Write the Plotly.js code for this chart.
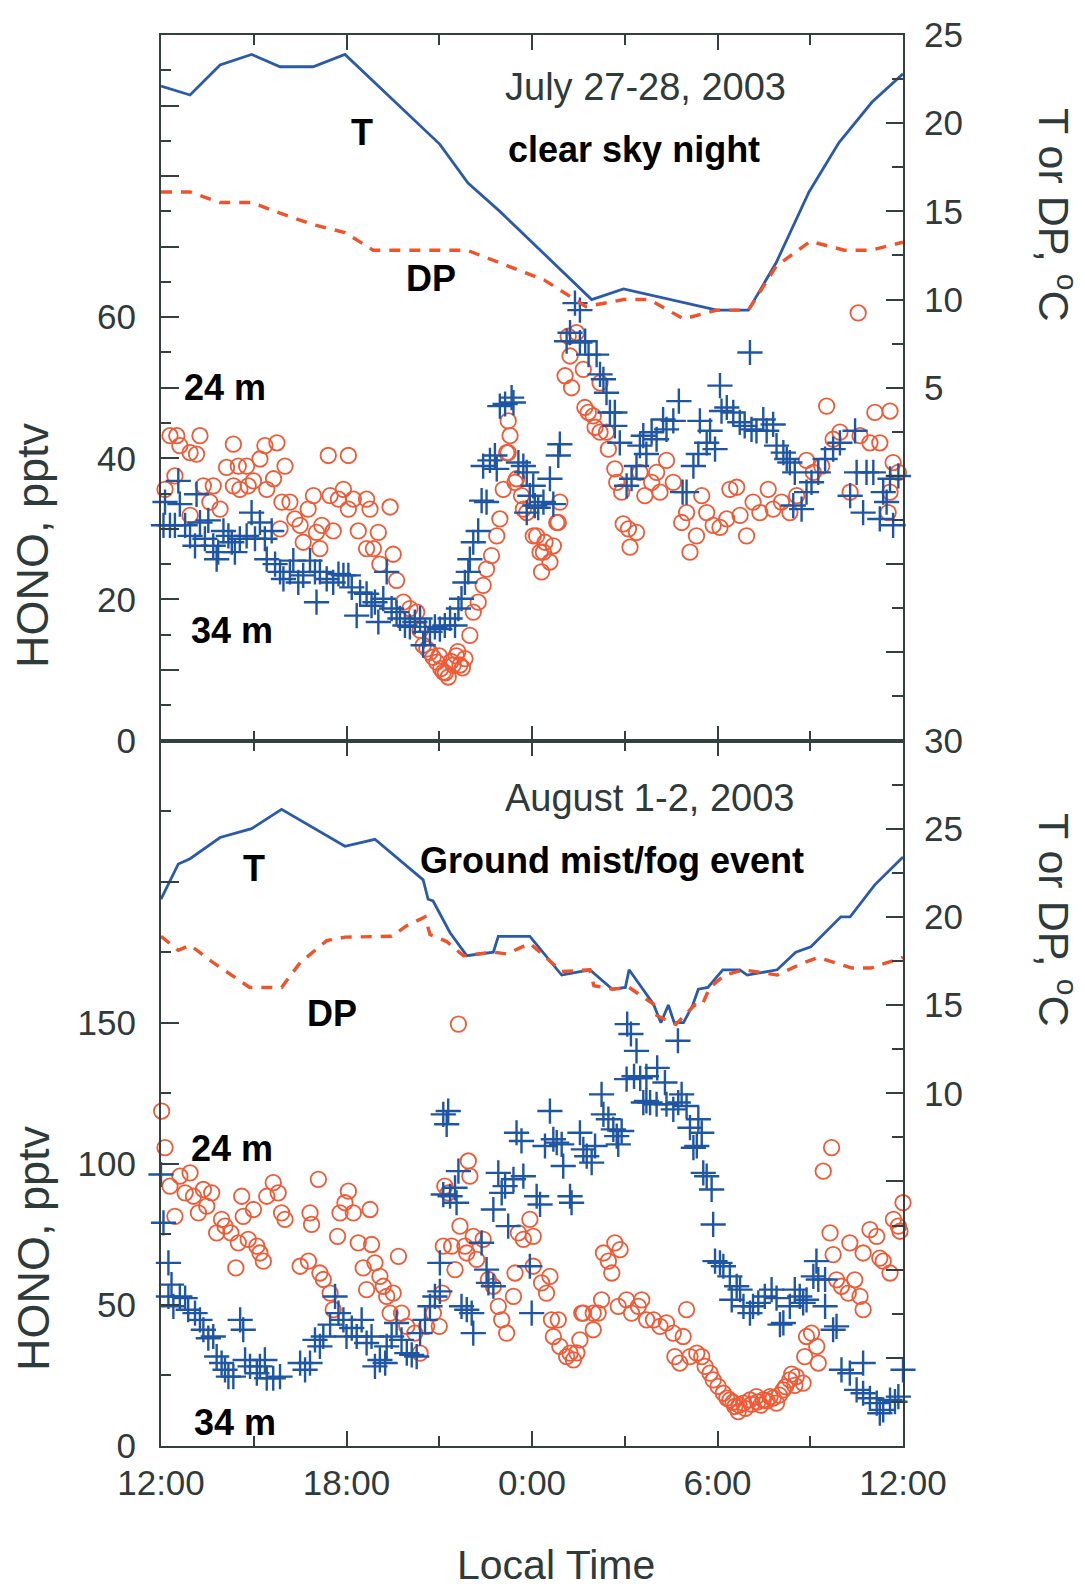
<!DOCTYPE html>
<html>
<head>
<meta charset="utf-8">
<script src="https://cdn.plot.ly/plotly-3.0.1.min.js"></script>
<style>
  html, body { margin: 0; padding: 0; background: #ffffff; }
  #chart { width: 1085px; height: 1590px; }
</style>
</head>
<body>
<div id="chart"></div>
<script>
// Hours after local noon (0 = 12:00, 12 = 0:00, 24 = 12:00 next day)
const xTickVals = [0, 6, 12, 18, 24];
const xTickText = ['12:00', '18:00', '0:00', '6:00', '12:00'];

// ---- July 27-28, 2003 (clear sky night) ----
const julTempHours = [0, 0.94, 1.91, 2.93, 3.85, 4.92, 5.95, 9.02, 9.93, 10.96, 13.93, 14.96, 17.98, 19.0, 19.9, 20.96, 21.93, 23.0, 24.0];
const julTemp      = [22.1, 21.6, 23.3, 23.9, 23.2, 23.2, 23.9, 18.8, 16.6, 15.0, 10.0, 10.6, 9.4, 9.4, 12.1, 16.1, 18.9, 21.2, 22.8];

const julDewHours = [0, 0.94, 1.91, 2.93, 3.85, 4.92, 5.95, 6.86, 9.9, 10.96, 12.4, 13.75, 14.96, 15.8, 16.9, 17.98, 19.0, 19.9, 21.0, 22.1, 22.96, 24.0];
const julDew      = [16.1, 16.1, 15.5, 15.5, 14.9, 14.25, 13.8, 12.8, 12.8, 12.1, 11.1, 9.6, 10.0, 10.0, 8.9, 9.4, 9.4, 11.9, 13.3, 12.8, 12.8, 13.25];

const jul24Hours = [0.13, 0.29, 0.51, 0.61, 0.45, 0.94, 1.15, 1.26, 0.94, 1.37, 1.69, 1.58, 1.91, 2.12, 2.34, 2.34, 2.50, 2.55, 2.77, 2.82,
  2.99, 3.20, 3.36, 3.42, 3.64, 3.75, 3.85, 3.91, 4.01, 4.17, 4.33, 4.50, 4.60, 4.76, 4.93, 5.03, 5.14, 5.20, 5.41, 5.47,
  5.57, 5.74, 5.90, 6.06, 6.06, 6.22, 6.38, 6.65, 6.76, 6.65, 6.87, 7.03, 7.08, 7.41, 7.51, 7.62, 7.84, 8.05, 8.27, 8.48,
  8.70, 8.92, 9.13, 9.29, 9.45, 9.67, 9.83, 9.99, 10.10, 10.26, 10.42, 10.53, 10.69, 10.86, 10.96, 11.07, 11.23, 11.29, 11.23, 11.45,
  11.66, 11.83, 12.04, 12.26, 12.42, 12.31, 12.58, 12.69, 12.85, 12.90, 11.18, 11.50, 11.72, 12.15, 12.37, 12.80, 13.17, 13.23, 13.07, 13.28,
  13.66, 13.44, 13.71, 13.82, 13.98, 14.20, 14.04, 14.20, 14.41, 14.47, 14.68, 14.74, 14.90, 14.95, 15.12, 15.17, 15.38, 15.49, 15.65, 15.87,
  16.03, 16.14, 16.35, 16.57, 16.84, 17.00, 17.11, 17.32, 17.49, 17.65, 17.86, 18.08, 18.30, 18.40, 18.62, 18.73, 18.94, 19.15, 19.37, 19.64,
  19.80, 20.07, 20.34, 20.56, 20.88, 21.10, 21.37, 21.53, 21.74, 21.96, 22.29, 22.55, 22.61, 22.93, 23.09, 23.25, 23.58, 23.58, 23.68, 23.85, 23.52,
  8.60, 8.80, 9.05, 9.20, 9.38, 9.55, 9.75, 8.38, 9.00, 9.60];
const jul24Hono  = [35.6, 43.2, 43.2, 41.8, 37.5, 40.8, 40.6, 43.2, 31.9, 36.1, 36.1, 33.8, 32.8, 38.7, 42.0, 36.1, 38.9, 35.6, 38.9, 36.1,
  36.8, 39.9, 41.8, 35.6, 37.1, 42.2, 30.0, 33.8, 38.9, 33.8, 31.4, 30.5, 28.1, 32.8, 34.7, 29.5, 27.2, 30.5, 40.4, 34.7,
  29.7, 34.2, 35.6, 40.4, 32.8, 34.2, 29.7, 34.2, 32.8, 27.2, 27.2, 29.5, 25.0, 33.1, 26.4, 22.7, 19.6, 18.7, 18.2, 13.5,
  12.5, 11.1, 9.7, 9.0, 10.7, 10.7, 11.6, 14.9, 18.2, 19.6, 22.0, 24.3, 26.2, 29.0, 31.4, 35.6, 40.8, 43.2, 45.3, 36.6,
  34.7, 32.3, 29.0, 26.7, 28.1, 23.9, 25.3, 27.6, 30.9, 33.8, 40.8, 37.1, 32.8, 29.0, 26.7, 30.9, 57.3, 54.5, 51.7, 50.0,
  52.6, 57.8, 47.2, 46.5, 46.0, 50.7, 44.4, 43.7, 43.7, 41.3, 38.5, 36.6, 35.2, 30.7, 30.0, 27.4, 29.5, 38.0, 34.7, 36.6,
  38.0, 35.2, 39.7, 36.6, 30.9, 32.3, 26.7, 29.0, 34.7, 32.3, 30.5, 30.2, 31.4, 35.6, 35.9, 31.9, 29.0, 33.8, 32.3, 35.6,
  32.8, 33.8, 32.3, 34.7, 39.7, 38.0, 38.9, 47.4, 42.7, 43.7, 35.2, 60.6, 43.2, 42.2, 46.5, 42.2, 46.7, 35.2, 39.4, 38.0, 32.3,
  13.0, 11.8, 10.2, 9.6, 11.2, 12.0, 10.3, 15.6, 12.0, 12.6];

const jul34Hours = [0.08, 0.13, 0.29, 0.45, 0.56, 0.61, 0.78, 0.94, 1.10, 1.15, 1.26, 1.42, 1.53, 1.69, 1.80, 1.85, 2.02, 2.18, 2.29, 2.39,
  2.55, 2.77, 2.93, 3.04, 3.20, 3.36, 3.42, 3.58, 3.69, 3.85, 3.96, 4.17, 4.28, 4.44, 4.60, 4.82, 4.98, 5.03, 5.14, 5.36,
  5.57, 5.74, 5.90, 6.06, 6.17, 6.33, 6.44, 6.65, 6.81, 6.92, 7.03, 7.19, 7.30, 7.46, 7.62, 7.73, 7.89, 8.05, 8.21, 8.38,
  8.48, 8.54, 8.70, 8.86, 9.02, 9.18, 9.35, 9.51, 9.62, 9.72, 9.83, 9.94, 9.99, 10.10, 10.26, 10.37, 10.53, 10.42, 10.64, 10.80,
  10.86, 10.96, 11.13, 11.34, 11.40, 11.56, 11.72, 11.83, 11.93, 12.04, 12.09, 12.20, 11.83, 12.37, 12.58, 12.69, 12.85, 12.90, 13.12, 13.23,
  13.55, 13.39, 13.55, 13.72, 13.83, 14.09, 14.20, 14.31, 14.41, 14.52, 14.68, 14.68, 14.84, 15.06, 15.22, 15.38, 15.49, 15.60, 15.70, 15.87,
  16.03, 16.24, 16.35, 16.57, 16.75, 16.87, 17.00, 17.22, 17.38, 17.43, 17.65, 17.76, 17.92, 18.08, 18.13, 18.30, 18.51, 18.72, 18.88, 19.05,
  19.10, 19.26, 19.48, 19.59, 19.80, 19.91, 20.13, 20.24, 20.34, 20.50, 20.45, 20.72, 20.88, 21.04, 21.26, 21.48, 21.74, 21.96, 22.29, 22.45,
  22.50, 22.71, 22.82, 23.04, 23.25, 23.36, 23.47, 23.58, 23.68, 23.85];
const jul34Hono  = [30.5, 33.8, 30.5, 30.5, 36.8, 33.5, 30.5, 29.0, 27.6, 34.9, 30.9, 28.6, 31.2, 27.6, 25.7, 26.7, 29.7, 29.0, 28.1, 26.7,
  28.6, 29.0, 32.3, 28.6, 30.9, 28.6, 25.7, 29.7, 25.0, 23.9, 22.9, 23.9, 25.5, 22.4, 23.4, 25.5, 23.9, 19.6, 23.9, 22.9,
  22.4, 23.6, 23.4, 23.4, 21.7, 17.7, 21.0, 20.8, 19.1, 19.6, 16.8, 20.1, 23.9, 18.7, 18.2, 17.3, 16.3, 16.1, 16.8, 17.3,
  13.5, 15.4, 15.4, 16.1, 15.8, 16.3, 17.3, 16.3, 18.7, 20.1, 22.4, 23.9, 25.7, 28.1, 29.7, 34.0, 33.8, 38.9, 39.7, 40.4,
  38.5, 47.4, 47.7, 48.6, 47.9, 39.4, 38.9, 38.0, 34.7, 36.1, 33.3, 33.0, 32.3, 33.8, 37.1, 33.5, 40.4, 42.0, 56.6, 57.8,
  56.4, 62.0, 61.0, 56.6, 54.7, 54.7, 51.9, 51.2, 49.3, 46.5, 46.5, 44.6, 42.2, 36.1, 37.1, 38.9, 41.8, 43.2, 40.6, 43.7,
  42.7, 45.5, 44.1, 45.3, 48.1, 35.2, 35.2, 38.9, 40.6, 45.3, 42.2, 43.9, 41.3, 50.3, 46.7, 47.2, 46.5, 45.1, 44.6, 55.0,
  44.1, 43.9, 45.5, 43.9, 44.8, 41.8, 40.8, 39.9, 39.4, 38.0, 33.3, 32.8, 35.2, 36.6, 38.0, 39.9, 41.3, 42.2, 34.7, 43.9,
  38.0, 32.3, 38.0, 38.0, 31.4, 35.2, 33.8, 37.1, 30.5, 37.5];

// ---- August 1-2, 2003 (ground mist / fog event) ----
const augTempHours = [0, 0.56, 0.94, 1.91, 2.93, 3.90, 5.95, 6.92, 8.48, 8.64, 8.80, 9.35, 9.89, 10.75, 10.91, 11.93, 12.96, 13.87, 14.60, 15.02,
  15.14, 15.93, 16.17, 16.41, 16.60, 16.90, 17.20, 17.38, 17.69, 18.17, 18.72, 18.96, 19.93, 20.53, 21.02, 21.99, 22.29, 23.08, 24.0];
const augTemp      = [21.0, 23.0, 23.3, 24.5, 25.0, 26.1, 24.0, 24.4, 22.1, 21.0, 20.9, 19.1, 17.8, 18.0, 18.9, 18.9, 16.7, 17.0, 15.9, 16.0,
  17.0, 15.05, 14.0, 15.0, 14.0, 14.0, 15.0, 15.9, 16.0, 17.0, 17.0, 16.7, 17.0, 18.0, 18.3, 20.0, 20.0, 21.8, 23.4];

const augDewHours = [0, 0.56, 0.94, 1.69, 2.87, 3.90, 4.50, 5.36, 5.95, 7.46, 7.95, 8.54, 8.70, 9.24, 9.78, 10.75, 11.18, 11.93, 12.96, 13.87,
  14.0, 14.6, 15.14, 15.93, 16.04, 16.65, 17.26, 17.5, 17.75, 18.24, 18.84, 19.93, 20.78, 21.26, 22.35, 22.96, 24.0];
const augDew      = [18.9, 18.1, 18.4, 17.4, 16.0, 16.0, 17.4, 18.65, 18.85, 18.9, 19.5, 20.0, 19.0, 18.6, 17.8, 18.0, 17.9, 18.5, 16.9, 17.0,
  16.1, 15.9, 16.0, 15.05, 14.4, 13.9, 15.0, 15.0, 16.0, 16.7, 17.0, 16.7, 17.4, 17.7, 17.1, 17.1, 17.7];

const aug24Hours = [0.02, 0.13, 0.29, 0.45, 0.61, 0.78, 0.94, 1.05, 1.21, 1.37, 1.48, 1.64, 1.80, 1.96, 2.07, 2.26, 2.42, 2.50, 2.61, 2.66,
  2.82, 2.99, 3.10, 3.20, 3.31, 3.42, 3.63, 3.79, 3.90, 4.01, 4.50, 4.77, 4.82, 4.87, 5.09, 5.14, 5.25, 5.47, 5.57, 5.71,
  5.79, 5.95, 6.06, 6.22, 6.38, 6.54, 6.65, 6.76, 6.81, 6.92, 7.08, 7.19, 7.30, 7.41, 7.51, 7.68, 7.78, 7.95, 8.21, 8.38,
  8.59, 8.81, 9.00, 9.10, 9.13, 9.18, 9.29, 9.40, 9.51, 9.62, 9.67, 9.83, 9.89, 9.94, 9.99, 10.10, 10.21, 10.42, 10.59, 10.75,
  10.91, 11.02, 11.18, 11.40, 11.45, 11.56, 11.72, 11.93, 12.04, 12.04, 12.31, 12.47, 12.58, 12.63, 12.69, 12.85, 12.90, 13.12, 13.23, 13.34,
  13.45, 13.55, 13.61, 13.66, 13.98, 13.98, 14.14, 14.25, 14.31, 14.47, 14.58, 14.68, 14.85, 14.79, 15.06, 15.22, 15.44, 15.55, 15.71, 15.93,
  16.14, 16.35, 16.57, 16.62, 16.78, 17.00, 16.89, 17.11, 17.33, 17.49, 17.60, 17.76, 17.86, 18.02, 18.19, 18.40, 18.56, 18.67, 18.84, 19.05,
  19.26, 19.48, 19.70, 19.91, 20.13, 20.34, 20.55, 20.77, 20.82, 20.88, 21.04, 21.21, 21.26, 21.42, 21.69, 21.64, 21.74, 21.85, 22.01, 22.23,
  22.28, 22.44, 22.61, 22.71, 22.71, 22.93, 23.15, 23.25, 23.36, 23.58, 23.69, 23.85, 23.90, 24.0,
  18.30, 18.50, 18.70, 18.90, 19.10, 19.30, 19.60, 19.80, 20.00, 20.20, 20.40, 20.50, 19.40];
const aug24Hono  = [118.7, 105.7, 92.1, 81.4, 95.6, 89.7, 96.8, 88.5, 82.6, 90.9, 85.0, 89.7, 75.5, 80.3, 77.9, 75.5, 63.1, 72.0, 88.5, 81.4,
  73.2, 83.8, 70.8, 68.4, 65.5, 88.5, 93.3, 89.7, 82.6, 80.3, 63.7, 65.5, 82.6, 78.5, 94.5, 61.3, 59.0, 54.2, 48.3, 74.3,
  82.6, 86.2, 90.3, 82.6, 72.0, 63.1, 55.4, 83.8, 71.4, 64.9, 60.1, 56.6, 53.0, 47.1, 54.2, 67.2, 47.1, 42.4, 40.0, 32.9,
  42.4, 47.1, 42.4, 54.2, 70.8, 92.1, 89.7, 70.8, 62.5, 149.5, 77.9, 70.8, 68.4, 101.0, 95.6, 74.3, 66.1, 73.2, 59.0, 56.6,
  49.5, 44.7, 40.0, 53.0, 61.3, 75.5, 73.2, 80.3, 74.3, 63.7, 57.8, 54.2, 60.1, 44.7, 38.8, 44.7, 35.3, 31.7, 32.9, 30.5,
  33.0, 37.6, 47.1, 47.1, 41.2, 47.1, 47.1, 51.8, 68.4, 65.5, 61.3, 72.0, 69.6, 49.5, 51.8, 47.1, 49.5, 51.8, 44.7, 44.7,
  42.4, 43.6, 40.0, 31.7, 29.4, 48.3, 38.8, 31.7, 32.9, 31.7, 28.2, 25.8, 23.4, 21.1, 18.7, 16.3, 14.0, 12.2, 15.2, 16.3,
  17.5, 16.3, 17.5, 15.2, 19.9, 23.4, 24.6, 22.3, 31.7, 38.8, 40.0, 35.3, 29.4, 97.4, 105.7, 75.5, 67.8, 58.9, 56.6, 54.2,
  72.0, 58.9, 53.0, 48.3, 68.4, 76.7, 74.3, 66.6, 65.5, 61.3, 80.3, 77.9, 76.1, 86.2,
  17.0, 15.5, 14.5, 13.3, 14.8, 15.6, 16.0, 17.0, 18.0, 21.0, 25.5, 21.5, 14.5];

const aug34Hours = [0, 0.08, 0.24, 0.34, 0.24, 0.40, 0.61, 0.78, 0.88, 1.10, 1.26, 1.37, 1.53, 1.69, 1.80, 1.96, 2.07, 2.18, 2.34, 2.56,
  2.66, 2.72, 2.88, 3.10, 3.20, 3.36, 3.42, 3.63, 3.85, 4.50, 4.66, 4.82, 4.98, 5.14, 5.25, 5.47, 5.63, 5.74, 5.90, 6.00,
  6.17, 6.33, 6.49, 6.65, 6.81, 6.92, 7.08, 7.25, 7.30, 7.46, 7.62, 7.78, 7.95, 8.11, 8.27, 8.38, 8.54, 8.70, 8.86, 9.02,
  9.02, 9.13, 9.29, 9.24, 9.13, 9.35, 9.51, 9.62, 9.56, 9.72, 9.89, 10.05, 10.10, 10.37, 10.53, 10.59, 10.75, 10.75, 10.91, 11.02,
  11.13, 11.23, 11.40, 11.50, 11.66, 11.72, 11.93, 11.99, 12.15, 12.26, 12.42, 12.58, 12.69, 12.80, 12.96, 13.01, 13.23, 13.28, 13.55, 13.66,
  13.77, 13.93, 14.04, 14.25, 14.31, 14.47, 14.63, 14.74, 14.79, 14.90, 15.06, 15.08, 15.20, 15.38, 15.30, 15.50, 15.70, 16.05, 16.72, 15.60,
  15.70, 15.82, 16.03, 16.30, 16.35, 16.57, 16.73, 16.84, 17.00, 17.11, 17.38, 17.49, 17.22, 17.33, 17.54, 17.65, 17.81, 17.86, 17.92, 18.08,
  18.19, 18.40, 18.62, 18.73, 18.46, 18.84, 19.05, 19.15, 19.32, 19.53, 19.75, 19.91, 20.02, 20.13, 20.34, 20.50, 20.66, 20.77, 20.88, 21.10,
  21.20, 21.26, 21.48, 21.48, 21.74, 21.85, 22.01, 22.28, 22.71, 22.50, 22.71, 22.93, 23.15, 23.25, 23.36, 23.58, 23.74, 23.85, 24.0];
const aug34Hono  = [96.2, 79.1, 64.9, 57.2, 53.0, 49.5, 53.0, 52.4, 48.3, 47.1, 44.7, 41.2, 38.2, 38.8, 31.7, 29.4, 27.0, 24.6, 24.6, 44.7,
  41.2, 30.5, 28.2, 25.8, 28.2, 30.5, 24.0, 24.0, 24.6, 29.4, 27.0, 29.4, 37.6, 35.3, 38.8, 43.0, 53.0, 47.1, 44.7, 38.8,
  41.8, 38.8, 44.7, 36.5, 38.8, 28.2, 30.5, 29.4, 35.3, 38.8, 43.6, 37.6, 32.9, 32.3, 31.7, 40.0, 44.7, 49.5, 53.0, 54.8,
  64.9, 117.5, 118.7, 114.0, 89.1, 88.5, 91.5, 97.4, 86.2, 49.5, 48.3, 47.1, 40.0, 72.0, 62.5, 57.8, 56.6, 83.8, 96.8, 89.7,
  92.1, 77.9, 94.5, 111.0, 108.1, 95.6, 63.7, 47.1, 88.5, 85.6, 106.3, 118.7, 108.7, 107.5, 106.9, 99.2, 88.5, 86.2, 111.0, 105.1,
  102.7, 100.4, 106.3, 124.6, 117.5, 115.8, 112.2, 109.8, 106.9, 111.6, 130.0, 149.5, 146.0, 140.0, 131.0, 130.3, 131.0, 134.0, 143.6, 121.7,
  122.3, 121.7, 121.1, 128.8, 121.1, 119.3, 121.7, 124.6, 120.5, 112.8, 115.8, 111.0, 105.7, 106.3, 96.8, 95.6, 90.9, 78.5, 65.5, 64.9,
  63.7, 60.1, 56.6, 55.4, 51.8, 49.5, 47.1, 49.5, 50.7, 53.0, 55.4, 52.4, 43.0, 43.6, 49.5, 55.4, 53.0, 50.7, 51.8, 60.1,
  65.5, 59.0, 59.0, 49.5, 41.2, 42.4, 27.0, 25.8, 29.4, 19.9, 18.7, 16.9, 15.2, 11.6, 12.8, 16.3, 15.7, 17.5, 27.0];

// ---- styling ----
const axisColor = '#34403f';
const textColor = '#2f3a3a';
const redColor  = '#f05a36';
const blueColor = '#1f56a3';
const fontFamily = 'Liberation Sans, Arial, sans-serif';
const tickFont  = { family: fontFamily, size: 35, color: textColor };

function circles(x, y, xa, ya) {
  return { x, y, xaxis: xa, yaxis: ya, type: 'scatter', mode: 'markers', cliponaxis: false, showlegend: false,
    marker: { symbol: 'circle-open', size: 15.5, color: redColor, line: { width: 1.8, color: redColor } } };
}
function crosses(x, y, xa, ya) {
  return { x, y, xaxis: xa, yaxis: ya, type: 'scatter', mode: 'markers', cliponaxis: false, showlegend: false,
    marker: { symbol: 'cross-thin-open', size: 18, color: blueColor, line: { width: 2.4, color: blueColor } } };
}
function tempLine(x, y, xa, ya) {
  return { x, y, xaxis: xa, yaxis: ya, type: 'scatter', mode: 'lines', showlegend: false,
    line: { color: '#2a5aa8', width: 2.8 } };
}
function dewLine(x, y, xa, ya) {
  return { x, y, xaxis: xa, yaxis: ya, type: 'scatter', mode: 'lines', showlegend: false,
    line: { color: '#f0522a', width: 3.4, dash: '11px,9px' } };
}

const traces = [
  circles(jul24Hours, jul24Hono, 'x', 'y'),
  crosses(jul34Hours, jul34Hono, 'x', 'y'),
  tempLine(julTempHours, julTemp, 'x', 'y2'),
  dewLine(julDewHours, julDew, 'x', 'y2'),
  circles(aug24Hours, aug24Hono, 'x2', 'y3'),
  crosses(aug34Hours, aug34Hono, 'x2', 'y3'),
  tempLine(augTempHours, augTemp, 'x2', 'y4'),
  dewLine(augDewHours, augDew, 'x2', 'y4')
];

const baseAxis = {
  showgrid: false, zeroline: false, showline: true, linecolor: axisColor, linewidth: 2,
  ticks: 'inside', tickcolor: axisColor, tickwidth: 2, tickfont: tickFont, ticklabelstandoff: 16
};

function xAxis(anchor, labels) {
  return Object.assign({}, baseAxis, {
    anchor, range: [0, 24], tickvals: xTickVals, ticktext: xTickText, showticklabels: labels,
    ticklen: 15, mirror: 'ticks', ticklabelstandoff: 5,
    minor: { tickvals: [3, 9, 15, 21], ticks: 'inside', ticklen: 10, tickwidth: 2, tickcolor: axisColor }
  });
}
function labelled(vals, shown) {
  return vals.map(v => shown.indexOf(v) >= 0 ? String(v) : ' ');
}

const topHono = [0, 10, 20, 30, 40, 50, 60, 70, 80, 90, 100];
const botHono = [0, 50, 100, 150, 200, 250];
const topTemp = [-15, -10, -5, 0, 5, 10, 15, 20, 25];
const botTemp = [-10, -5, 0, 5, 10, 15, 20, 25, 30];

const layout = {
  width: 1085, height: 1590,
  margin: { l: 161, r: 182, t: 35, b: 144 },
  paper_bgcolor: '#ffffff', plot_bgcolor: '#ffffff',
  font: { family: fontFamily, color: textColor },
  xaxis: xAxis('y', false),
  xaxis2: xAxis('y3', true),
  yaxis: Object.assign({}, baseAxis, {
    domain: [0.5, 1], anchor: 'x', range: [0, 100], tickvals: topHono, ticktext: labelled(topHono, [0, 20, 40, 60]),
    ticklen: 18, minor: { dtick: 5, tick0: 0, ticks: 'inside', ticklen: 10, tickwidth: 2, tickcolor: axisColor }
  }),
  yaxis2: Object.assign({}, baseAxis, {
    overlaying: 'y', side: 'right', anchor: 'x', range: [-15, 25], tickvals: topTemp, ticktext: labelled(topTemp, [5, 10, 15, 20, 25]),
    ticklen: 17, ticklabelstandoff: 12,
    minor: { dtick: 2.5, tick0: 0, ticks: 'inside', ticklen: 11, tickwidth: 2, tickcolor: axisColor }
  }),
  yaxis3: Object.assign({}, baseAxis, {
    domain: [0, 0.5], anchor: 'x2', range: [0, 250], tickvals: botHono, ticktext: labelled(botHono, [0, 50, 100, 150]),
    ticklen: 18, minor: { dtick: 25, tick0: 0, ticks: 'inside', ticklen: 10, tickwidth: 2, tickcolor: axisColor }
  }),
  yaxis4: Object.assign({}, baseAxis, {
    overlaying: 'y3', side: 'right', anchor: 'x2', range: [-10, 30], tickvals: botTemp, ticktext: labelled(botTemp, [10, 15, 20, 25, 30]),
    ticklen: 17, ticklabelstandoff: 12,
    minor: { dtick: 2.5, tick0: 0, ticks: 'inside', ticklen: 11, tickwidth: 2, tickcolor: axisColor }
  }),
  annotations: []
};

const regular = { family: fontFamily, size: 38, color: textColor };
const bold = { family: fontFamily, size: 36, color: '#000000', weight: 'bold' };
const titleFont = { family: fontFamily, size: 45, color: textColor };

function note(text, x, y, font, angle) {
  layout.annotations.push({ text, x, y, xref: 'paper', yref: 'paper', xanchor: 'center', yanchor: 'middle',
    showarrow: false, font, textangle: angle || 0, borderpad: 0 });
}

note('July 27-28, 2003', 0.6536, 0.9631, regular);
note('<b>clear sky night</b>', 0.6375, 0.9185, bold);
note('<b>T</b>', 0.2709, 0.9312, bold);
note('<b>DP</b>', 0.3639, 0.8271, bold);
note('<b>24 m</b>', 0.0863, 0.7505, bold);
note('<b>34 m</b>', 0.0957, 0.5783, bold);

note('August 1-2, 2003', 0.6577, 0.4592, regular);
note('<b>Ground mist/fog event</b>', 0.6078, 0.4153, bold);
note('<b>T</b>', 0.1247, 0.4096, bold);
note('<b>DP</b>', 0.2298, 0.3062, bold);
note('<b>24 m</b>', 0.0957, 0.2105, bold);
note('<b>34 m</b>', 0.0997, 0.0170, bold);

note('HONO, pptv', -0.1725, 0.6386, titleFont, -90);
note('HONO, pptv', -0.1725, 0.1403, titleFont, -90);
note('T or DP, <sup>o</sup>C', 1.2075, 0.8724, Object.assign({}, titleFont, { size: 43 }), 90);
note('T or DP, <sup>o</sup>C', 1.2075, 0.3728, Object.assign({}, titleFont, { size: 43 }), 90);
note('Local Time', 0.532, -0.0845, Object.assign({}, titleFont, { size: 41 }));

Plotly.newPlot('chart', traces, layout, { staticPlot: true, displayModeBar: false });
</script>
</body>
</html>
